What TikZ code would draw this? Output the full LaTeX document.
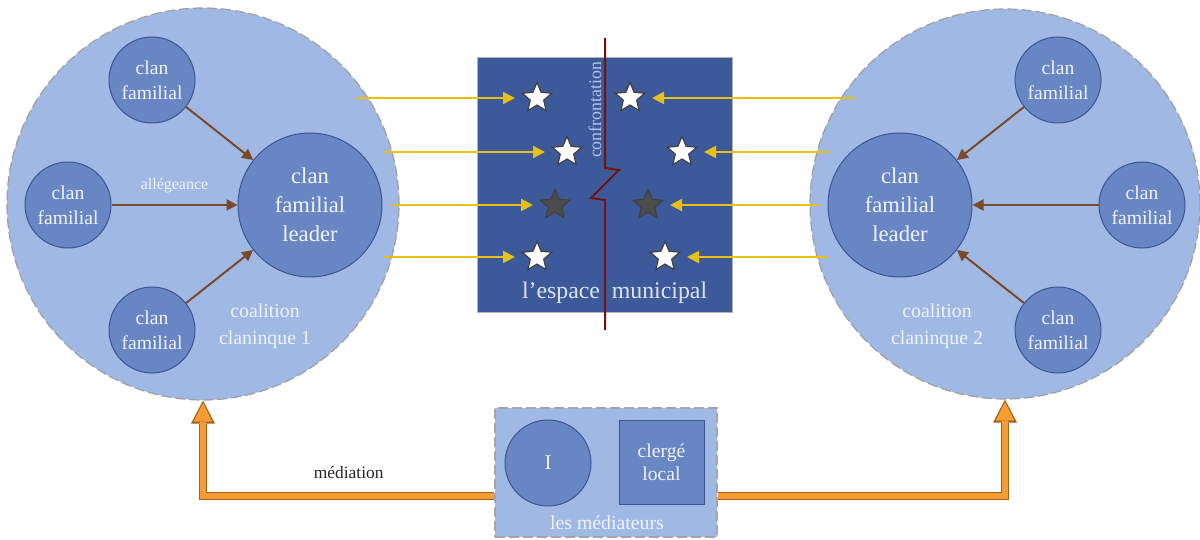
\documentclass[tikz,border=0pt]{standalone}
\usepackage{fontspec}
\setmainfont{Liberation Serif}
\usepackage{tikz}
\usetikzlibrary{arrows.meta,shapes.geometric,positioning,calc}
\definecolor{coalbleu}{RGB}{160,184,228}
\definecolor{clanbleu}{RGB}{104,134,196}
\definecolor{clanbord}{RGB}{62,86,142}
\definecolor{espacebleu}{RGB}{60,90,154}
\definecolor{confbleu}{RGB}{180,196,230}
\definecolor{allegbrun}{RGB}{122,74,42}
\definecolor{confjaune}{RGB}{232,192,20}
\definecolor{confrouge}{RGB}{112,18,18}
\definecolor{medorange}{RGB}{246,156,48}
\definecolor{medbord}{RGB}{160,96,30}
\definecolor{texteclair}{RGB}{240,244,252}

\begin{document}
\begin{tikzpicture}[x=0.5pt, y=-0.5pt,
    coalition/.style={circle, fill=coalbleu, draw=gray!75, dash pattern=on 5pt off 2pt,
        line width=0.6pt, minimum size=196pt, inner sep=0pt},
    clan/.style={circle, fill=clanbleu, draw=clanbord, line width=0.5pt, minimum size=43pt,
        inner sep=0pt, text=texteclair, align=center, font=\fontsize{9.8}{12.5}\selectfont},
    leader/.style={clan, minimum size=72pt, font=\fontsize{11.3}{14.5}\selectfont},
    etiquette/.style={text=texteclair, align=center, font=\fontsize{9.9}{13.5}\selectfont},
    allegeance/.style={draw=allegbrun, line width=1pt, -{Triangle[width=5.5pt,length=5.5pt]}},
    vise/.style={draw=confjaune, line width=1pt, -{Triangle[width=6pt,length=6pt]}, shorten >=11pt},
    etoile/.style={star, star points=5, star point ratio=2.2, minimum size=15.5pt, inner sep=0pt,
        fill=white, draw=black!75, line width=0.6pt},
    etoilenoire/.style={etoile, fill=black!70},
    medext/.style={draw=medbord, line width=4pt,
        -{Triangle[width=12pt,length=11.5pt,line width=0pt]}},
    medint/.style={draw=medorange, line width=2.6pt,
        -{Triangle[width=9.4pt,length=9.4pt,line width=0pt]}, shorten >=1.1pt}
]
    \useasboundingbox (0,0) rectangle (1200,540);

    % Coalitions
    \node[coalition] (coal1) at (203,204) {};
    \node[coalition, minimum size=195pt] (coal2) at (1005,204) {};

    % Coalition 1
    \node[leader] (lead1) at (310,205) {clan\\familial\\leader};
    \node[clan] (c1) at (152,80) {clan\\familial};
    \node[clan] (c2) at (68,205) {clan\\familial};
    \node[clan] (c3) at (152,330) {clan\\familial};
    \node[etiquette] (lab1) at (265,326.5) {coalition\\claninque 1};
    \draw[allegeance] (c1) -- (lead1);
    \draw[allegeance] (c2) -- (lead1)
        node[midway, above=2pt, text=texteclair, font=\fontsize{8}{9}\selectfont] {allégeance};
    \draw[allegeance] (c3) -- (lead1);

    % Coalition 2
    \node[leader] (lead2) at (900,205) {clan\\familial\\leader};
    \node[clan] (d1) at (1058,80) {clan\\familial};
    \node[clan] (d2) at (1142,205) {clan\\familial};
    \node[clan] (d3) at (1058,330) {clan\\familial};
    \node[etiquette] (lab2) at (937,326.5) {coalition\\claninque 2};
    \draw[allegeance] (d1) -- (lead2);
    \draw[allegeance] (d2) -- (lead2);
    \draw[allegeance] (d3) -- (lead2);

    % Espace municipal
    \node[rectangle, fill=espacebleu, draw=gray!60, line width=0.4pt,
        minimum width=127.5pt, minimum height=127.5pt] (esp) at (604.5,184.5) {};
    \node[text=texteclair!90!espacebleu, font=\fontsize{11.9}{13}\selectfont] (esp1) at (561,293) {l’espace};
    \node[text=texteclair!90!espacebleu, font=\fontsize{11.9}{13}\selectfont] (esp2) at (659.5,293) {municipal};
    \node[rotate=90, text=confbleu, font=\fontsize{8.9}{10}\selectfont] (conf) at (595,110) {confrontation};

    % Ligne de confrontation
    \draw[confrouge, line width=1pt] (605,38) -- (605,168) -- (619,170) -- (591,198)
        -- (605,200) -- (605,330);

    % Etoiles
    \node[etoile] (s1) at (537,98) {};
    \node[etoile] (s2) at (567,152) {};
    \node[etoilenoire] (s3) at (555,205) {};
    \node[etoile] (s4) at (537,257) {};
    \node[etoile] (t1) at (630,98) {};
    \node[etoile] (t2) at (682,152) {};
    \node[etoilenoire] (t3) at (648,205) {};
    \node[etoile] (t4) at (665,257) {};

    % Fleches jaunes
    \coordinate (g1) at (355,98);
    \coordinate (g2) at (383,152);
    \coordinate (g3) at (392,205);
    \coordinate (g4) at (383,257);
    \coordinate (h1) at (855,98);
    \coordinate (h2) at (830,152);
    \coordinate (h3) at (820,205);
    \coordinate (h4) at (828,257);
    \draw[vise] (g1) -- (s1.center);
    \draw[vise] (g2) -- (s2.center);
    \draw[vise] (g3) -- (s3.center);
    \draw[vise] (g4) -- (s4.center);
    \draw[vise] (h1) -- (t1.center);
    \draw[vise] (h2) -- (t2.center);
    \draw[vise] (h3) -- (t3.center);
    \draw[vise] (h4) -- (t4.center);

    % Mediateurs
    \node[rectangle, fill=coalbleu, draw=gray!70, dash pattern=on 5pt off 2pt, line width=0.6pt,
        minimum width=111pt, minimum height=64.5pt] (med) at (606,472.5) {};
    \node[clan, font=\fontsize{10.5}{12}\selectfont] (med1) at (548,463) {I};
    \node[clan, rectangle, minimum width=42.5pt, minimum height=42pt,
        font=\fontsize{9.8}{11.5}\selectfont] (med2) at (661.5,462) {clergé\\local};
    \node[etiquette] (medlab) at (607,523) {les médiateurs};

    % Mediation
    \coordinate (hm) at (600,496);
    \draw[medext] (med.west |- hm) -| (coal1.south);
    \draw[medint] (med.west |- hm) -| (coal1.south)
        node[pos=0.25, above=4pt, text=black!85, font=\fontsize{8.7}{10}\selectfont] {médiation};
    \draw[medext] (med.east |- hm) -| (coal2.south);
    \draw[medint] (med.east |- hm) -| (coal2.south);

\end{tikzpicture}
\end{document}
